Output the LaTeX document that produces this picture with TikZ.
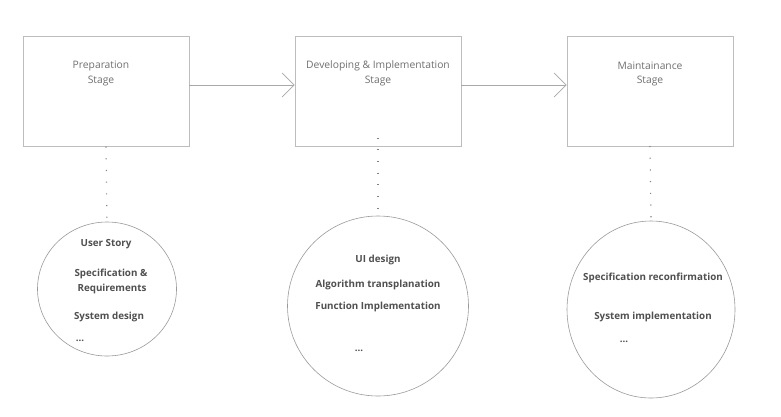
\documentclass[tikz,border=0pt]{standalone}
\usepackage{fontspec}
\setmainfont{Open Sans}
\usetikzlibrary{arrows.meta,shapes.geometric}
\definecolor{boxline}{HTML}{BDBDBD}
\definecolor{arrline}{HTML}{A8A8A8}
\definecolor{lbl}{HTML}{707070}
\definecolor{itm}{HTML}{505050}
\definecolor{circline}{HTML}{9A9A9A}
\definecolor{dotc}{HTML}{808080}
\tikzset{
  stagebox/.style={draw=boxline, line width=0.8pt, rectangle, minimum width=166pt, minimum height=110pt, inner sep=0pt},
  stagelbl/.style={text=lbl, font=\fontsize{10.3}{12}\selectfont, inner sep=0pt, anchor=center, yshift=-1.2pt},
  itemcircle/.style={draw=circline, line width=0.6pt, ellipse, inner sep=0pt},
  itemlbl/.style={text=itm, font=\fontsize{9.8}{11}\selectfont\bfseries, inner sep=0pt, anchor=center, yshift=-1.5pt},
  flow/.style={draw=arrline, line width=0.8pt, -{Straight Barb[length=12pt,width=24pt,line width=0.7pt]}},
  dotlink/.style={draw=dotc, line width=1.1pt, dash pattern=on 1.1pt off 10.6pt}
}
\begin{document}
\begin{tikzpicture}[x=1pt,y=-1pt]
\useasboundingbox (0,0) rectangle (781,416);
\fill[white] (0,0) rectangle (781,416);
% stage boxes
\node[stagebox] (b1) at (106,91) {};
\node[stagebox] (b2) at (378,91) {};
\node[stagebox] (b3) at (650,91) {};
\node[stagelbl] (b1a) at (101,65) {Preparation};
\node[stagelbl] (b1b) at (101,80) {Stage};
\node[stagelbl] (b2a) at (378,65) {Developing \& Implementation};
\node[stagelbl] (b2b) at (378,80) {Stage};
\node[stagelbl] (b3a) at (650,65) {Maintainance};
\node[stagelbl] (b3b) at (650,80) {Stage};
% arrows
\draw[flow] (b1.east |- 0,85) coordinate (a1s) -- (b2.west |- 0,85) coordinate (a1e);
\draw[flow] (b2.east |- 0,85) coordinate (a2s) -- (b3.west |- 0,85) coordinate (a2e);
% circles
\node[itemcircle, minimum width=139pt, minimum height=134pt] (c1) at (107,289) {};
\node[itemcircle, minimum width=181pt, minimum height=180pt] (c2) at (378,306) {};
\node[itemcircle, minimum width=168pt, minimum height=177pt] (c3) at (651,309.5) {};
% dotted connectors
\draw[dotlink] (106,146.5) coordinate (d1s) -- (c1.north);
\draw[dotlink] (378,137.5) coordinate (d2s) -- (c2.north);
\draw[dotlink] (650,146) coordinate (d3s) -- (c3.north);
% circle 1 texts
\node[itemlbl] (t11) at (106,243) {User Story};
\node[itemlbl] (t12) at (111,272) {Specification \&};
\node[itemlbl] (t13) at (112,287) {Requirements};
\node[itemlbl] (t14) at (109,315) {System design};
\node[itemlbl] (t15) at (80,339) {...};
% circle 2 texts
\node[itemlbl] (t21) at (378,258) {UI design};
\node[itemlbl] (t22) at (378,283) {Algorithm transplanation};
\node[itemlbl] (t23) at (378,305) {Function Implementation};
\node[itemlbl] (t24) at (359,349) {...};
% circle 3 texts
\node[itemlbl] (t31) at (653,276) {Specification reconfirmation};
\node[itemlbl] (t32) at (653,315) {System implementation};
\node[itemlbl] (t33) at (624,340) {...};
\end{tikzpicture}
\end{document}
